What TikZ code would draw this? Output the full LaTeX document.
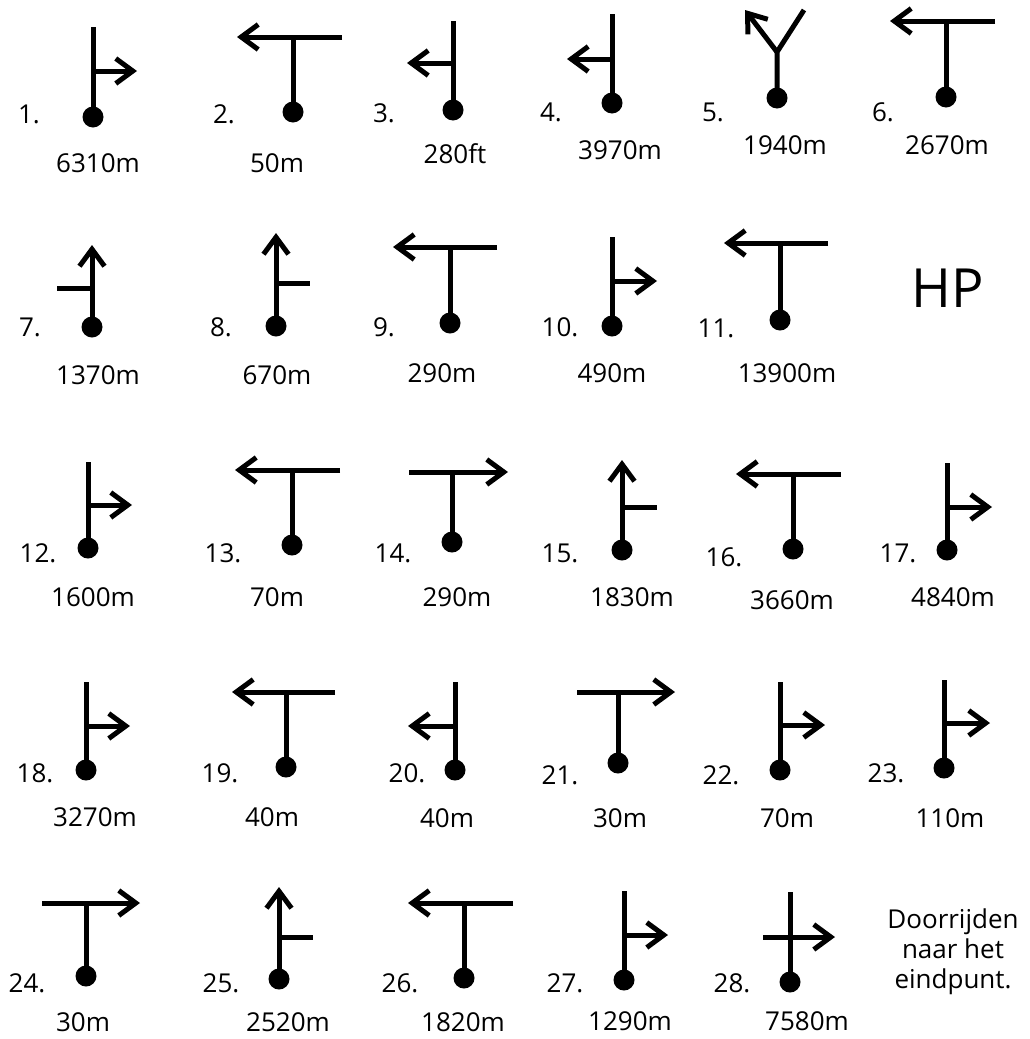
\documentclass[tikz,border=0pt]{standalone}
\usepackage{fontspec}
\setmainfont{Open Sans}
\usetikzlibrary{arrows.meta}
\tikzset{
  road/.style={line width=5pt},
  arr/.style={-{Straight Barb[length=17pt,width=25pt]}},
  dot/.style={circle,fill=black,minimum size=21pt,inner sep=0pt},
  num/.style={font=\fontsize{26}{31}\selectfont,inner sep=0pt},
  dist/.style={font=\fontsize{26}{31}\selectfont,inner sep=0pt},
}
\begin{document}
\begin{tikzpicture}[x=1pt,y=-1pt]
\useasboundingbox[fill=white] (0,0) rectangle (1029,1039);

% 1
\node[dot] (d1) at (93,117) {};
\coordinate (t1) at (93,27); \coordinate (j1) at (93,71); \coordinate (a1) at (137,71);
\draw[road] (d1.center) -- (t1);
\draw[road,arr] (j1) -- (a1);
\node[num] (n1) at (29,114) {1.};
\node[dist] (m1) at (98,163) {6310m};

% 2
\node[dot] (d2) at (293,112) {};
\coordinate (t2) at (293,37); \coordinate (r2) at (342,37); \coordinate (a2) at (237,37);
\draw[road] (d2.center) -- (t2);
\draw[road,arr] (r2) -- (a2);
\node[num] (n2) at (224,114) {2.};
\node[dist] (m2) at (277,163) {50m};

% 3
\node[dot] (d3) at (453,110) {};
\coordinate (t3) at (453,21); \coordinate (j3) at (453,63); \coordinate (a3) at (407,63);
\draw[road] (d3.center) -- (t3);
\draw[road,arr] (j3) -- (a3);
\node[num] (n3) at (384,113) {3.};
\node[dist] (m3) at (455,154) {280ft};

% 4
\node[dot] (d4) at (612,103) {};
\coordinate (t4) at (612,14); \coordinate (j4) at (612,59); \coordinate (a4) at (567,59);
\draw[road] (d4.center) -- (t4);
\draw[road,arr] (j4) -- (a4);
\node[num] (n4) at (551,112) {4.};
\node[dist] (m4) at (620,150) {3970m};

% 5
\node[dot] (d5) at (777,98) {};
\coordinate (f5) at (777,52); \coordinate (a5) at (745,10); \coordinate (r5) at (804,10);
\draw[road] (d5.center) -- (f5) -- (r5);
\draw[road,arr] (f5) -- (a5);
\node[num] (n5) at (713,112) {5.};
\node[dist] (m5) at (785,145) {1940m};

% 6
\node[dot] (d6) at (946,97) {};
\coordinate (t6) at (946,21); \coordinate (r6) at (995,21); \coordinate (a6) at (890,21);
\draw[road] (d6.center) -- (t6);
\draw[road,arr] (r6) -- (a6);
\node[num] (n6) at (883,112) {6.};
\node[dist] (m6) at (947,145) {2670m};

% 7
\node[dot] (d7) at (92,327) {};
\coordinate (a7) at (92,245); \coordinate (j7) at (92,288); \coordinate (s7) at (57,288);
\draw[road,arr] (d7.center) -- (a7);
\draw[road] (j7) -- (s7);
\node[num] (n7) at (30,327) {7.};
\node[dist] (m7) at (98,375) {1370m};

% 8
\node[dot] (d8) at (276,326) {};
\coordinate (a8) at (276,233); \coordinate (j8) at (276,283); \coordinate (s8) at (310,283);
\draw[road,arr] (d8.center) -- (a8);
\draw[road] (j8) -- (s8);
\node[num] (n8) at (221,327) {8.};
\node[dist] (m8) at (277,375) {670m};

% 9
\node[dot] (d9) at (450,323) {};
\coordinate (t9) at (450,247); \coordinate (r9) at (497,247); \coordinate (a9) at (393,247);
\draw[road] (d9.center) -- (t9);
\draw[road,arr] (r9) -- (a9);
\node[num] (n9) at (384,327) {9.};
\node[dist] (m9) at (442,373) {290m};

% 10
\node[dot] (d10) at (612,326) {};
\coordinate (t10) at (612,237); \coordinate (j10) at (612,281); \coordinate (a10) at (657,281);
\draw[road] (d10.center) -- (t10);
\draw[road,arr] (j10) -- (a10);
\node[num] (n10) at (560,327) {10.};
\node[dist] (m10) at (612,373) {490m};

% 11
\node[dot] (d11) at (780,320) {};
\coordinate (t11) at (780,243); \coordinate (r11) at (828,243); \coordinate (a11) at (724,243);
\draw[road] (d11.center) -- (t11);
\draw[road,arr] (r11) -- (a11);
\node[num] (n11) at (716,328) {11.};
\node[dist] (m11) at (787,373) {13900m};

% HP
\node[inner sep=0pt,font=\fontsize{54}{60}\selectfont] (hp) at (948,288) {HP};

% 12
\node[dot] (d12) at (88,548) {};
\coordinate (t12) at (88,462); \coordinate (j12) at (88,505); \coordinate (a12) at (132,505);
\draw[road] (d12.center) -- (t12);
\draw[road,arr] (j12) -- (a12);
\node[num] (n12) at (38,553) {12.};
\node[dist] (m12) at (93,597) {1600m};

% 13
\node[dot] (d13) at (292,545) {};
\coordinate (t13) at (292,470); \coordinate (r13) at (340,470); \coordinate (a13) at (235,470);
\draw[road] (d13.center) -- (t13);
\draw[road,arr] (r13) -- (a13);
\node[num] (n13) at (223,553) {13.};
\node[dist] (m13) at (277,597) {70m};

% 14
\node[dot] (d14) at (452,542) {};
\coordinate (t14) at (452,472); \coordinate (l14) at (409,472); \coordinate (a14) at (508,472);
\draw[road] (d14.center) -- (t14);
\draw[road,arr] (l14) -- (a14);
\node[num] (n14) at (393,553) {14.};
\node[dist] (m14) at (457,597) {290m};

% 15
\node[dot] (d15) at (622,550) {};
\coordinate (a15) at (622,460); \coordinate (j15) at (622,507); \coordinate (s15) at (657,507);
\draw[road,arr] (d15.center) -- (a15);
\draw[road] (j15) -- (s15);
\node[num] (n15) at (560,553) {15.};
\node[dist] (m15) at (632,597) {1830m};

% 16
\node[dot] (d16) at (793,549) {};
\coordinate (t16) at (793,474); \coordinate (r16) at (841,474); \coordinate (a16) at (736,474);
\draw[road] (d16.center) -- (t16);
\draw[road,arr] (r16) -- (a16);
\node[num] (n16) at (724,557) {16.};
\node[dist] (m16) at (792,600) {3660m};

% 17
\node[dot] (d17) at (947,550) {};
\coordinate (t17) at (947,463); \coordinate (j17) at (947,507); \coordinate (a17) at (992,507);
\draw[road] (d17.center) -- (t17);
\draw[road,arr] (j17) -- (a17);
\node[num] (n17) at (898,553) {17.};
\node[dist] (m17) at (953,597) {4840m};

% 18
\node[dot] (d18) at (86,770) {};
\coordinate (t18) at (86,682); \coordinate (j18) at (86,726); \coordinate (a18) at (130,726);
\draw[road] (d18.center) -- (t18);
\draw[road,arr] (j18) -- (a18);
\node[num] (n18) at (35,773) {18.};
\node[dist] (m18) at (95,817) {3270m};

% 19
\node[dot] (d19) at (286,767) {};
\coordinate (t19) at (286,692); \coordinate (r19) at (335,692); \coordinate (a19) at (232,692);
\draw[road] (d19.center) -- (t19);
\draw[road,arr] (r19) -- (a19);
\node[num] (n19) at (220,773) {19.};
\node[dist] (m19) at (272,817) {40m};

% 20
\node[dot] (d20) at (455,770) {};
\coordinate (t20) at (455,682); \coordinate (j20) at (455,726); \coordinate (a20) at (408,726);
\draw[road] (d20.center) -- (t20);
\draw[road,arr] (j20) -- (a20);
\node[num] (n20) at (407,773) {20.};
\node[dist] (m20) at (447,818) {40m};

% 21
\node[dot] (d21) at (618,763) {};
\coordinate (t21) at (618,692); \coordinate (l21) at (577,692); \coordinate (a21) at (675,692);
\draw[road] (d21.center) -- (t21);
\draw[road,arr] (l21) -- (a21);
\node[num] (n21) at (560,775) {21.};
\node[dist] (m21) at (620,818) {30m};

% 22
\node[dot] (d22) at (780,770) {};
\coordinate (t22) at (780,682); \coordinate (j22) at (780,725); \coordinate (a22) at (825,725);
\draw[road] (d22.center) -- (t22);
\draw[road,arr] (j22) -- (a22);
\node[num] (n22) at (721,775) {22.};
\node[dist] (m22) at (787,818) {70m};

% 23
\node[dot] (d23) at (944,768) {};
\coordinate (t23) at (944,680); \coordinate (j23) at (944,723); \coordinate (a23) at (990,723);
\draw[road] (d23.center) -- (t23);
\draw[road,arr] (j23) -- (a23);
\node[num] (n23) at (886,773) {23.};
\node[dist] (m23) at (950,818) {110m};

% 24
\node[dot] (d24) at (86,976) {};
\coordinate (t24) at (86,903); \coordinate (l24) at (42,903); \coordinate (a24) at (140,903);
\draw[road] (d24.center) -- (t24);
\draw[road,arr] (l24) -- (a24);
\node[num] (n24) at (27,983) {24.};
\node[dist] (m24) at (83,1022) {30m};

% 25
\node[dot] (d25) at (279,979) {};
\coordinate (a25) at (279,887); \coordinate (j25) at (279,937); \coordinate (s25) at (313,937);
\draw[road,arr] (d25.center) -- (a25);
\draw[road] (j25) -- (s25);
\node[num] (n25) at (221,983) {25.};
\node[dist] (m25) at (288,1022) {2520m};

% 26
\node[dot] (d26) at (464,978) {};
\coordinate (t26) at (464,903); \coordinate (r26) at (513,903); \coordinate (a26) at (408,903);
\draw[road] (d26.center) -- (t26);
\draw[road,arr] (r26) -- (a26);
\node[num] (n26) at (400,983) {26.};
\node[dist] (m26) at (463,1022) {1820m};

% 27
\node[dot] (d27) at (624,980) {};
\coordinate (t27) at (624,891); \coordinate (j27) at (624,935); \coordinate (a27) at (668,935);
\draw[road] (d27.center) -- (t27);
\draw[road,arr] (j27) -- (a27);
\node[num] (n27) at (565,983) {27.};
\node[dist] (m27) at (630,1021) {1290m};

% 28
\node[dot] (d28) at (790,982) {};
\coordinate (t28) at (790,892); \coordinate (l28) at (763,937); \coordinate (a28) at (835,937);
\draw[road] (d28.center) -- (t28);
\draw[road,arr] (l28) -- (a28);
\node[num] (n28) at (732,983) {28.};
\node[dist] (m28) at (807,1021) {7580m};

% end text
\node[inner sep=0pt,align=center,font=\fontsize{26}{30}\selectfont] (end) at (953,952) {Doorrijden\\naar het\\eindpunt.};
\end{tikzpicture}
\end{document}
